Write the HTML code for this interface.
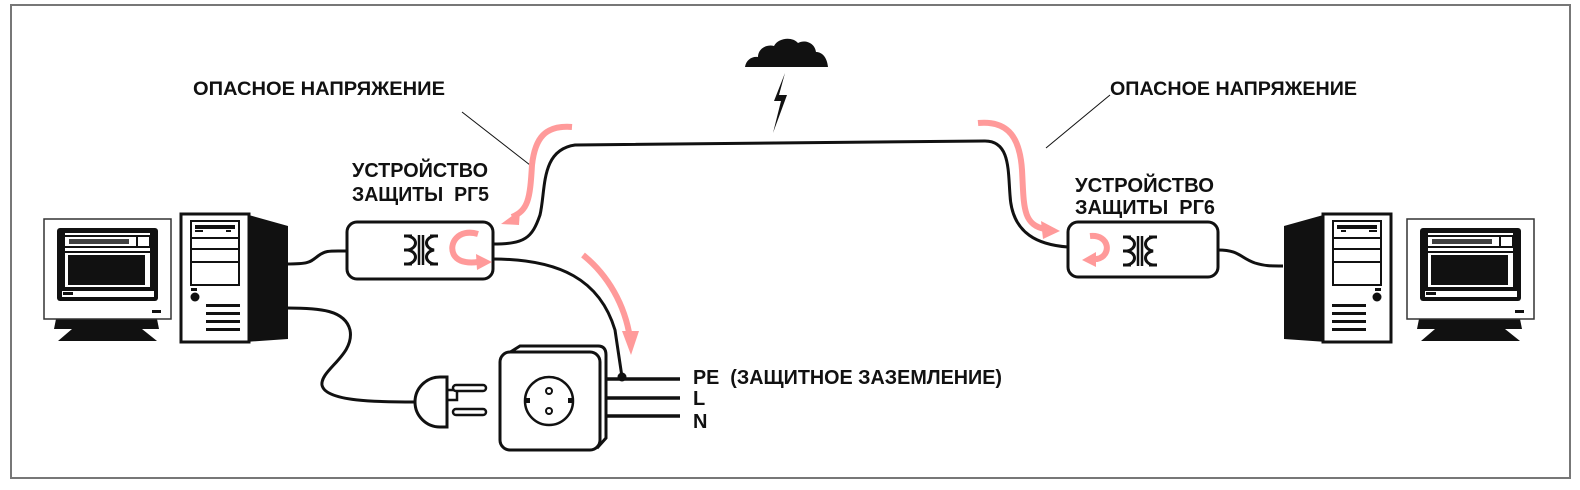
<!DOCTYPE html>
<html><head><meta charset="utf-8"><style>
html,body{margin:0;padding:0;background:#fff}
svg{display:block}
text{font-family:"Liberation Sans",Arial,sans-serif;font-weight:bold;fill:#111}
</style></head><body>
<svg width="1580" height="490" viewBox="0 0 1580 490" xmlns="http://www.w3.org/2000/svg">
<defs>
<g id="mon">
  <path d="M12 100 L10 110 L115 110 L113 100 Z" fill="#111"/>
  <path d="M28 110 L14 122 L113 122 L98 110 Z" fill="#111"/>
  <rect x="0" y="0" width="127" height="100" fill="#fff" stroke="#333" stroke-width="1.5"/>
  <rect x="13" y="9" width="101" height="73" rx="3" fill="#111"/>
  <rect x="21" y="14" width="85" height="2" fill="#fff"/>
  <rect x="21" y="18" width="71" height="9" fill="#fff"/>
  <rect x="94" y="18" width="11" height="9" fill="#fff"/>
  <rect x="25" y="20" width="60" height="5" fill="#111" opacity=".8"/>
  <rect x="21" y="29" width="85" height="3" fill="#fff"/>
  <rect x="21" y="34" width="85" height="34" fill="#fff"/>
  <rect x="24" y="36" width="77" height="30" fill="#111"/>
  <rect x="18" y="72" width="92" height="6" fill="#fff"/>
  <rect x="19" y="73" width="10" height="3" fill="#111"/>
  <rect x="108" y="91" width="9" height="3" fill="#111"/>
</g>
<g id="tower">
  <path d="M64 0 L107 12 L107 125 L64 128 Z" fill="#111"/>
  <rect x="0" y="0" width="68" height="128" fill="#fff" stroke="#111" stroke-width="3"/>
  <rect x="10" y="7" width="48" height="64" fill="#fff" stroke="#111" stroke-width="2"/>
  <rect x="14" y="11" width="40" height="4" fill="#111"/>
  <rect x="14" y="16" width="8" height="2" fill="#111"/>
  <rect x="45" y="16" width="5" height="2" fill="#111"/>
  <line x1="10" y1="24" x2="58" y2="24" stroke="#111" stroke-width="2"/>
  <line x1="10" y1="35" x2="58" y2="35" stroke="#111" stroke-width="2"/>
  <line x1="10" y1="48" x2="58" y2="48" stroke="#111" stroke-width="2"/>
  <rect x="10" y="74" width="6" height="3" fill="#111"/>
  <circle cx="14" cy="83" r="4.5" fill="#111"/>
  <rect x="25" y="90" width="34" height="3" fill="#111"/>
  <rect x="25" y="98" width="34" height="3" fill="#111"/>
  <rect x="25" y="106" width="34" height="3" fill="#111"/>
  <rect x="25" y="114" width="34" height="3" fill="#111"/>
</g>
<g id="xf">
  <path d="M0 1 H8 M0 29 H8 M4 1 C14 3 14 13 4 15 C14 17 14 27 4 29 M0 15 H4" fill="none" stroke="#111" stroke-width="3"/>
  <line x1="15" y1="0" x2="15" y2="30" stroke="#111" stroke-width="2.5"/>
  <line x1="19" y1="0" x2="19" y2="30" stroke="#111" stroke-width="2.5"/>
  <path d="M34 1 H26 M34 29 H26 M30 1 C20 3 20 13 30 15 C20 17 20 27 30 29" fill="none" stroke="#111" stroke-width="3"/>
</g>
</defs>

<rect x="11" y="5" width="1559" height="473" fill="none" stroke="#777" stroke-width="2"/>

<use href="#mon" x="44" y="219"/>
<use href="#tower" x="181" y="214"/>
<use href="#tower" transform="translate(1391,214) scale(-1,1)"/>
<use href="#mon" x="1407" y="219"/>

<g fill="none" stroke="#111" stroke-width="3">
  <path d="M287 264 C310 264 310 262 318 256 C326 250 330 251 347 251"/>
  <path d="M287 308 C320 308 345 310 350 330 C355 355 320 370 322 385 C325 402 380 402 415 402"/>
  <path d="M493 244 C525 244 532 238 540 215 C546 190 540 150 575 145 L985 141 C1010 141 1008 170 1010 195 C1012 235 1040 245 1068 247"/>
  <path d="M493 259 C560 259 600 280 615 330 L622 377"/>
  <path d="M1218 250 C1240 250 1240 258 1255 263 C1265 266 1270 266 1283 266"/>
</g>
<circle cx="622" cy="377" r="4.5" fill="#111"/>

<line x1="462" y1="112" x2="530" y2="165" stroke="#111" stroke-width="1"/>
<line x1="1110" y1="95" x2="1046" y2="148" stroke="#111" stroke-width="1"/>

<rect x="347" y="222" width="146" height="57" rx="10" fill="#fff" stroke="#111" stroke-width="3"/>
<use href="#xf" x="404" y="235"/>
<rect x="1068" y="222" width="150" height="55" rx="10" fill="#fff" stroke="#111" stroke-width="3"/>
<use href="#xf" x="1123" y="236"/>

<path d="M440 377 A25 25 0 0 0 440 427 L447 427 L447 377 Z" fill="#fff" stroke="#111" stroke-width="3"/>
<path d="M447 390 H457 V400 H447" fill="none" stroke="#111" stroke-width="2.5"/>
<rect x="453" y="385" width="33" height="6" rx="3" fill="#fff" stroke="#111" stroke-width="2.5"/>
<rect x="453" y="409" width="33" height="6" rx="3" fill="#fff" stroke="#111" stroke-width="2.5"/>

<path d="M512 351 L520 346 L598 346 Q606 346 606 355 L606 438 L598 447 Z" fill="#fff" stroke="#111" stroke-width="3"/>
<rect x="500" y="352" width="100" height="98" rx="10" fill="#fff" stroke="#111" stroke-width="3"/>
<circle cx="549" cy="401" r="24" fill="#fff" stroke="#111" stroke-width="2.5"/>
<circle cx="549" cy="391" r="3" fill="#fff" stroke="#111" stroke-width="2"/>
<circle cx="549" cy="411" r="3" fill="#fff" stroke="#111" stroke-width="2"/>
<rect x="526" y="398" width="4" height="5" fill="#111"/>
<rect x="568" y="398" width="4" height="5" fill="#111"/>
<g stroke="#111" stroke-width="3.5">
  <line x1="606" y1="379" x2="680" y2="379"/>
  <line x1="606" y1="398" x2="680" y2="398"/>
  <line x1="606" y1="416" x2="680" y2="416"/>
</g>

<path d="M745 67 C746 60 752 56 758 57 C758 49 766 44 774 46 C778 38 792 36 798 43 C805 39 815 43 816 52 C822 52 827 57 828 67 Z" fill="#111"/>
<path d="M785 73 L779 95 L787 95 L773 133 L781 101 L774 101 Z" fill="#111"/>

<g fill="none" stroke="#ff9a9a" stroke-width="6" stroke-linecap="butt">
  <path d="M572 127 C545 125 535 138 532 165 C530 200 528 210 512 217"/>
  <path d="M583 255 C608 275 625 305 630 338"/>
  <path d="M978 123 C1010 120 1020 140 1022 170 C1024 205 1022 225 1045 229"/>
  <path d="M478 234 C458 228 448 244 454 255 C459 263 470 263 478 262"/>
  <path d="M1090 236 C1110 234 1112 256 1097 259 L1093 259"/>
</g>
<g fill="#ff9a9a">
  <path d="M501 224 L520 210 L519 225 Z"/>
  <path d="M631 355 L622 331 L639 331 Z"/>
  <path d="M1060 231 L1041 221 L1043 239 Z"/>
  <path d="M492 262 L476 254 L477 270 Z"/>
  <path d="M1082 260 L1096 252 L1096 267 Z"/>
</g>

<g font-size="19">
  <text x="193" y="95" textLength="252" lengthAdjust="spacingAndGlyphs">ОПАСНОЕ НАПРЯЖЕНИЕ</text>
  <text x="1110" y="95" textLength="247" lengthAdjust="spacingAndGlyphs">ОПАСНОЕ НАПРЯЖЕНИЕ</text>
</g>
<g font-size="20">
  <text x="352" y="177" textLength="136" lengthAdjust="spacingAndGlyphs">УСТРОЙСТВО</text>
  <text x="352" y="201" xml:space="preserve" textLength="137" lengthAdjust="spacingAndGlyphs">ЗАЩИТЫ  РГ5</text>
  <text x="1075" y="192" textLength="139" lengthAdjust="spacingAndGlyphs">УСТРОЙСТВО</text>
  <text x="1075" y="214" xml:space="preserve" textLength="140" lengthAdjust="spacingAndGlyphs">ЗАЩИТЫ  РГ6</text>
  <text x="693" y="384" xml:space="preserve" textLength="309" lengthAdjust="spacingAndGlyphs">PE  (ЗАЩИТНОЕ ЗАЗЕМЛЕНИЕ)</text>
  <text x="693" y="405">L</text>
  <text x="693" y="428">N</text>
</g>
</svg>
</body></html>
